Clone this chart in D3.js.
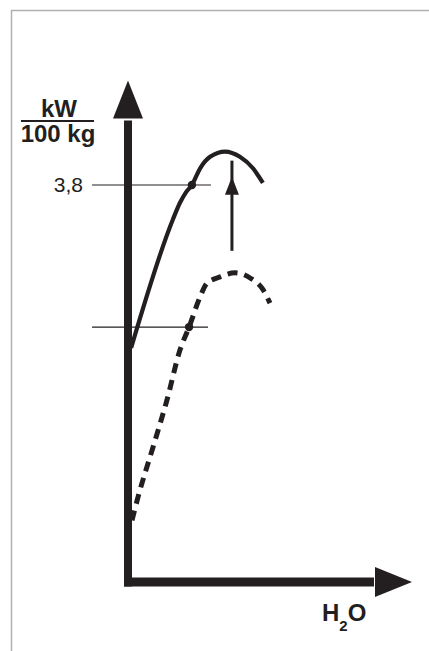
<!DOCTYPE html>
<html>
<head>
<meta charset="utf-8">
<script src="https://cdn.jsdelivr.net/npm/d3@7"></script>
<style>
  html, body { margin: 0; padding: 0; background: #fff; }
  text { font-family: "Liberation Sans", Arial, sans-serif; fill: #231f20; }
</style>
</head>
<body>
<svg width="429" height="651"></svg>
<script>
// Power output vs. water content

// upper curve (solid)
var solidX = [1.1, 15.8, 18.3, 20.4, 22.5, 25.4, 28.9, 34.2, 39.4, 44.0, 47.5];
var solidY = [2.24, 3.47, 3.63, 3.73, 3.80, 3.96, 4.07, 4.12, 4.07, 3.96, 3.82];

// lower curve (dashed)
var dashX = [1.4, 3.5, 8.8, 13.7, 18.3, 21.5, 25.4, 27.8, 32.4, 37.7, 43.0, 47.5, 50.0];
var dashY = [0.59, 0.81, 1.29, 1.74, 2.22, 2.44, 2.73, 2.86, 2.92, 2.96, 2.91, 2.80, 2.67];

// marked points with reference lines
var markX = [22.5, 21.5];
var markY = [3.8, 2.44];
var markLabels = ["3,8", ""];

// arrow showing the shift
var shiftX = 36.6;
var shiftFrom = 3.17;
var shiftTo = 3.88;

var yTitle = ["kW", "100 kg"];

var svg = d3.select("svg");
var ink = "#231f20";

var x = d3.scaleLinear().domain([0, 100]).range([128, 412]);
var y = d3.scaleLinear().domain([0, 3.8]).range([582, 185]);

// frame (only top and left edges visible)
svg.append("path")
  .attr("d", "M11.5,651 L11.5,10.5 L429,10.5")
  .attr("fill", "none")
  .attr("stroke", "#b0b0b0")
  .attr("stroke-width", 1.5);

// reference lines
markY.forEach(function(v, i) {
  svg.append("line")
    .attr("x1", x(0) - 36)
    .attr("x2", x(markX[i]) + 19)
    .attr("y1", y(v))
    .attr("y2", y(v))
    .attr("stroke", ink)
    .attr("stroke-width", 1.1);
  if (markLabels[i]) {
    svg.append("text")
      .attr("x", 83)
      .attr("y", y(v) + 7)
      .attr("text-anchor", "end")
      .attr("font-size", 21)
      .text(markLabels[i]);
  }
});

// axes
var yTop = 4.8;
var xEnd = 100;
svg.append("line")
  .attr("x1", x(0)).attr("x2", x(0))
  .attr("y1", y(0) + 4.5).attr("y2", y(yTop) + 40)
  .attr("stroke", ink).attr("stroke-width", 8);
svg.append("path")
  .attr("d", "M" + x(0) + "," + y(yTop) +
    "L" + (x(0) + 15) + "," + (y(yTop) + 38) +
    "L" + (x(0) - 15) + "," + (y(yTop) + 38) + "Z")
  .attr("fill", ink);

svg.append("line")
  .attr("x1", x(0) - 4).attr("x2", x(xEnd) - 38)
  .attr("y1", y(0)).attr("y2", y(0))
  .attr("stroke", ink).attr("stroke-width", 9);
svg.append("path")
  .attr("d", "M" + x(xEnd) + "," + y(0) +
    "L" + (x(xEnd) - 37) + "," + (y(0) - 15) +
    "L" + (x(xEnd) - 37) + "," + (y(0) + 15) + "Z")
  .attr("fill", ink);

// curves
var line = d3.line()
  .x(function(d) { return x(d[0]); })
  .y(function(d) { return y(d[1]); })
  .curve(d3.curveMonotoneX);

svg.append("path")
  .attr("d", line(d3.zip(solidX, solidY)))
  .attr("fill", "none")
  .attr("stroke", ink)
  .attr("stroke-width", 4.2)
  .attr("stroke-linecap", "butt");

svg.append("path")
  .attr("d", line(d3.zip(dashX, dashY)))
  .attr("fill", "none")
  .attr("stroke", ink)
  .attr("stroke-width", 5)
  .attr("stroke-dasharray", "10,7");

// dots
svg.selectAll("circle.mark")
  .data(d3.zip(markX, markY))
  .enter().append("circle")
  .attr("class", "mark")
  .attr("cx", function(d) { return x(d[0]); })
  .attr("cy", function(d) { return y(d[1]); })
  .attr("r", 4.2)
  .attr("fill", ink);

// shift arrow
svg.append("line")
  .attr("x1", x(shiftX)).attr("x2", x(shiftX))
  .attr("y1", y(shiftFrom)).attr("y2", y(shiftTo) - 16)
  .attr("stroke", ink).attr("stroke-width", 3);
svg.append("path")
  .attr("d", "M" + x(shiftX) + "," + y(shiftTo) +
    "L" + (x(shiftX) + 7) + "," + (y(shiftTo) + 18) +
    "L" + (x(shiftX) - 7) + "," + (y(shiftTo) + 18) + "Z")
  .attr("fill", ink);

// y axis title as a fraction
svg.append("text")
  .attr("x", 59).attr("y", 117)
  .attr("text-anchor", "middle")
  .attr("font-size", 24).attr("font-weight", "bold")
  .text(yTitle[0]);
svg.append("line")
  .attr("x1", 21).attr("x2", 94)
  .attr("y1", 121).attr("y2", 121)
  .attr("stroke", ink).attr("stroke-width", 2);
svg.append("text")
  .attr("x", 58).attr("y", 142)
  .attr("text-anchor", "middle")
  .attr("font-size", 24).attr("font-weight", "bold")
  .text(yTitle[1]);

// x axis title H2O
var xt = svg.append("text")
  .attr("x", 322).attr("y", 621)
  .attr("font-size", 24).attr("font-weight", "bold");
xt.append("tspan").text("H");
xt.append("tspan").attr("font-size", 15).attr("dy", 10).text("2");
xt.append("tspan").attr("dy", -10).text("O");
</script>
</body>
</html>
